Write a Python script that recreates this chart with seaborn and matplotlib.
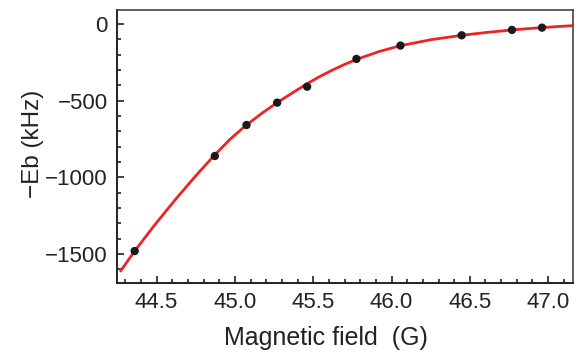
import seaborn as sns
import numpy as np
import pandas as pd
import matplotlib.pyplot as plt
from matplotlib.ticker import MultipleLocator

# measured binding energies
field = [44.36, 44.872, 45.074, 45.27, 45.461, 45.776, 46.057, 46.448, 46.769, 46.961]
energy = [-1481, -861, -659, -513, -409, -228, -141, -74, -39, -24]

# fit curve
fit_field = [44.27, 44.36, 44.4875, 44.615, 44.7425, 44.87, 44.97, 45.07, 45.17, 45.27,
             45.365, 45.46, 45.54, 45.62, 45.70, 45.78, 45.92, 46.06, 46.255, 46.45,
             46.61, 46.77, 46.865, 46.96, 47.06, 47.16]
fit_energy = [-1611, -1481, -1311, -1151, -999, -855, -751, -662, -584, -513,
              -451, -390, -344, -302, -264, -230, -180, -141, -102, -74,
              -55, -39, -31, -24, -17, -11]

df_pts = pd.DataFrame({'B': field, 'E': energy})
df_fit = pd.DataFrame({'B': fit_field, 'E': fit_energy})

sns.set_style("ticks")
plt.rcParams['font.family'] = ['Liberation Sans', 'DejaVu Sans']

fig = plt.figure(figsize=(5.85, 3.59), dpi=100)
ax = fig.add_axes([0.2005, 0.2109, 0.7785, 0.7604])

sns.lineplot(df_fit, x='B', y='E', ax=ax, color='#ec2424', linewidth=2.0, sort=False)
sns.scatterplot(df_pts, x='B', y='E', ax=ax, color='#1a1a1a', s=36, edgecolor='none', zorder=3)

ax.set_xlim(44.249, 47.157)
ax.set_ylim(-1691, 89)

ax.xaxis.set_minor_locator(MultipleLocator(0.1))
ax.yaxis.set_minor_locator(MultipleLocator(100))
ax.set_xticks([44.5, 45.0, 45.5, 46.0, 46.5, 47.0])
ax.set_xticklabels(['44.5', '45.0', '45.5', '46.0', '46.5', '47.0'])
ax.set_yticks([0, -500, -1000, -1500])
ax.set_yticklabels(['0', '\u2212500', '\u22121000', '\u22121500'])

ax.tick_params(which='both', direction='in', labelsize=16, color='#222222',
               labelcolor='#222222', width=1.2)
ax.tick_params(which='major', length=5)
ax.tick_params(which='minor', length=3)
ax.tick_params(axis='x', which='major', pad=6)
ax.tick_params(axis='y', which='major', pad=7)

for side in ['left', 'bottom']:
    ax.spines[side].set_linewidth(1.4)
    ax.spines[side].set_color('#222222')
for side in ['top', 'right']:
    ax.spines[side].set_visible(True)
    ax.spines[side].set_linewidth(1.2)
    ax.spines[side].set_color('#444444')

ax.set_xlabel('Magnetic field  (G)', fontsize=18, color='#222222')
ax.set_ylabel('\u2212Eb (kHz)', fontsize=17.5, color='#222222')
ax.xaxis.set_label_coords(0.458, -0.155)
ax.yaxis.set_label_coords(-0.161, 0.51)

plt.savefig('out.png', dpi=100)
